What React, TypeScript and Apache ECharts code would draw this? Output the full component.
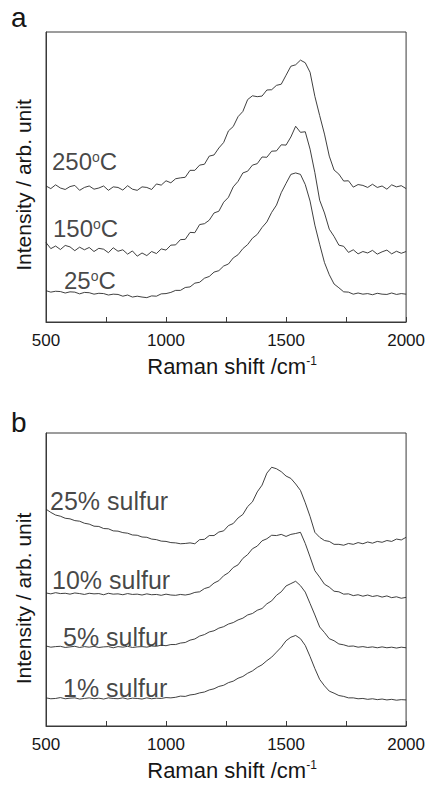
import React, { useEffect, useRef } from "react";
import * as echarts from "echarts";

// Raman shift (cm^-1), shared x values for every spectrum
const ramanShift = [
  500, 520, 540, 560, 580, 600, 620, 640, 660, 680,
  700, 720, 740, 760, 780, 800, 820, 840, 860, 880,
  900, 920, 940, 960, 980, 1000, 1020, 1040, 1060, 1080,
  1100, 1120, 1140, 1160, 1180, 1200, 1220, 1240, 1260, 1280,
  1300, 1320, 1340, 1360, 1380, 1400, 1420, 1440, 1460, 1480,
  1500, 1520, 1540, 1560, 1580, 1600, 1620, 1640, 1660, 1680,
  1700, 1720, 1740, 1760, 1780, 1800, 1820, 1840, 1860, 1880,
  1900, 1920, 1940, 1960, 1980, 2000,
];

// Panel a: intensity (arb. unit, offset stacked)
const temp25C = [
  10.8, 10.3, 10.6, 10.5, 10.0, 10.4, 10.3, 9.7, 10.2, 10.1,
  9.6, 9.9, 9.8, 9.3, 9.6, 9.5, 8.9, 9.3, 8.6, 8.9,
  8.6, 8.4, 9.0, 8.9, 9.7, 9.8, 10.2, 10.9, 10.9, 11.9,
  12.1, 13.4, 13.7, 15.1, 15.7, 17.2, 17.7, 19.3, 20.0, 22.1,
  23.2, 25.3, 26.7, 28.9, 30.2, 32.6, 34.5, 37.8, 40.3, 44.6,
  47.8, 50.9, 51.4, 50.9, 47.4, 41.7, 33.4, 26.8, 20.5, 16.3,
  13.1, 11.8, 10.4, 10.3, 9.6, 10.0, 9.6, 9.8, 9.4, 9.9,
  9.6, 9.5, 10.0, 9.5, 9.8, 9.6,
];
const temp150C = [
  27.4, 25.3, 26.2, 25.0, 26.4, 25.9, 24.6, 25.8, 24.9, 25.7,
  24.3, 25.4, 25.1, 23.9, 25.6, 24.4, 24.9, 23.4, 24.5, 22.7,
  23.8, 22.9, 24.3, 23.6, 25.2, 24.8, 26.5, 26.6, 28.4, 28.5,
  30.9, 30.8, 33.6, 33.9, 35.1, 37.6, 38.2, 41.3, 43.0, 46.6,
  48.5, 51.4, 52.0, 54.1, 54.6, 56.9, 56.8, 58.9, 59.0, 61.1,
  61.0, 63.8, 67.5, 65.4, 65.6, 59.6, 51.5, 42.0, 37.6, 32.0,
  29.5, 26.5, 26.1, 24.0, 24.9, 23.5, 24.3, 23.8, 24.7, 23.4,
  24.2, 24.8, 23.5, 24.4, 23.7, 24.3,
];
const temp250C = [
  46.9, 46.0, 47.3, 46.2, 45.7, 46.7, 47.1, 45.4, 46.4, 46.9,
  45.8, 46.2, 46.9, 45.4, 46.6, 46.4, 45.5, 47.0, 45.8, 45.4,
  46.6, 46.4, 45.7, 47.6, 47.2, 48.7, 48.0, 49.4, 49.7, 49.9,
  52.3, 52.3, 54.1, 54.4, 57.2, 57.6, 60.0, 61.9, 65.9, 67.4,
  70.8, 72.6, 76.7, 78.0, 77.7, 77.9, 80.0, 80.1, 81.6, 82.0,
  85.1, 88.2, 88.7, 90.3, 89.4, 86.1, 77.8, 71.2, 64.8, 57.2,
  52.4, 51.0, 48.6, 48.7, 46.5, 47.4, 47.1, 46.4, 47.5, 46.4,
  46.9, 45.8, 47.3, 46.6, 47.0, 46.0,
];

// Panel b: intensity (arb. unit, offset stacked)
const sulfur1 = [
  9.6, 9.3, 9.4, 9.7, 9.3, 9.5, 9.6, 9.2, 9.4, 9.6,
  9.3, 9.5, 9.2, 9.6, 9.4, 9.3, 9.6, 9.2, 9.5, 9.4,
  9.2, 9.6, 9.3, 9.5, 9.4, 9.7, 9.6, 9.8, 10.2, 10.1,
  10.6, 10.8, 11.3, 11.6, 12.3, 12.7, 13.5, 13.9, 14.8, 15.3,
  16.3, 16.9, 18.0, 18.8, 20.0, 20.9, 22.3, 23.5, 25.2, 26.9,
  29.1, 30.3, 30.9, 29.8, 27.5, 23.7, 19.6, 15.9, 13.7, 11.9,
  11.2, 10.4, 10.1, 9.6, 9.6, 9.3, 9.4, 9.1, 9.3, 9.0,
  9.2, 8.9, 9.1, 8.8, 9.0, 8.9,
];
const sulfur5 = [
  27.3, 26.9, 27.1, 27.2, 26.8, 27.0, 27.2, 26.8, 27.1, 26.9,
  27.2, 26.8, 27.0, 27.1, 26.7, 27.1, 26.9, 27.2, 26.8, 27.0,
  27.1, 26.9, 27.3, 27.2, 27.6, 27.4, 27.8, 27.8, 28.3, 28.5,
  29.3, 29.7, 30.7, 31.2, 32.1, 32.5, 33.4, 33.9, 34.8, 35.3,
  36.2, 36.8, 37.9, 38.4, 39.5, 40.1, 41.7, 42.7, 44.6, 45.8,
  47.8, 48.6, 49.4, 47.9, 45.7, 41.8, 37.9, 33.8, 31.9, 29.8,
  29.1, 28.0, 27.7, 27.2, 27.3, 26.9, 27.1, 26.8, 27.0, 26.7,
  27.0, 26.7, 26.9, 26.6, 26.9, 26.7,
];
const sulfur10 = [
  45.4, 45.1, 45.5, 45.2, 45.3, 45.0, 45.4, 45.2, 44.9, 45.3,
  45.1, 45.2, 44.8, 45.3, 45.0, 45.1, 44.8, 45.2, 44.9, 45.0,
  44.7, 45.1, 44.8, 44.9, 44.6, 45.0, 44.7, 44.6, 44.9, 44.7,
  45.0, 45.6, 45.8, 46.9, 47.4, 48.8, 49.6, 51.3, 52.3, 54.1,
  55.0, 57.2, 58.5, 60.5, 61.4, 63.2, 63.9, 65.1, 65.0, 65.4,
  64.7, 65.4, 65.7, 66.1, 62.3, 57.7, 53.0, 50.8, 48.4, 47.4,
  46.0, 45.8, 45.0, 45.1, 44.5, 44.8, 44.3, 44.7, 44.2, 44.5,
  44.0, 44.4, 43.8, 44.1, 43.6, 43.9,
];
const sulfur25 = [
  74.0, 72.9, 72.0, 71.6, 70.9, 70.7, 70.1, 69.9, 69.2, 68.9,
  68.2, 68.1, 67.4, 67.3, 66.6, 66.5, 66.0, 65.8, 65.2, 65.1,
  64.5, 64.4, 63.8, 63.6, 63.1, 63.0, 62.6, 62.5, 62.2, 62.3,
  62.5, 62.2, 63.6, 63.7, 65.0, 65.0, 66.2, 66.6, 68.4, 69.1,
  71.0, 72.2, 74.9, 76.5, 79.9, 82.2, 86.3, 88.3, 87.8, 86.8,
  85.3, 84.5, 82.6, 80.4, 76.2, 71.5, 66.1, 64.4, 63.3, 63.0,
  62.0, 62.0, 61.7, 62.3, 62.0, 62.6, 62.2, 62.8, 62.4, 63.0,
  62.7, 63.3, 63.0, 63.8, 63.5, 64.4,
];

const temperatures = ["250", "150", "25"];
const sulfurContents = ["25%", "10%", "5%", "1%"];
const xTickValues = [500, 1000, 1500, 2000];
const panelLetters = ["a", "b"];

const FONT = '"Liberation Sans", Arial, Helvetica, sans-serif';
const INK = "#161616";
const LINE = "#2a2a2a";
const FRAME = "#3a3a3a";

const toPairs = (ys: number[]) => ramanShift.map((x, i) => [x, ys[i]]);

export default function App() {
  const ref = useRef<HTMLDivElement>(null);

  useEffect(() => {
    if (!ref.current) return;
    const chart = echarts.init(ref.current, undefined, { renderer: "svg" });

    const panels = [
      {
        top: 32,
        height: 290,
        curves: [temp250C, temp150C, temp25C],
        labels: temperatures.map((t) => `{n|${t}}{o|o}{n|C}`),
        offsets: [[6, -24], [7, -14], [18, -10]],
        letterTop: 3,
        yNameShift: 16,
      },
      {
        top: 433,
        height: 293,
        curves: [sulfur25, sulfur10, sulfur5, sulfur1],
        labels: sulfurContents.map((s) => `${s} sulfur`),
        offsets: [[4, -8], [6, -13], [17, -9], [17, -10]],
        letterTop: 408,
        yNameShift: 38,
      },
    ];

    const grids = panels.map((p) => ({
      left: 46,
      width: 363,
      top: p.top,
      height: p.height,
      show: true,
      borderColor: FRAME,
      borderWidth: 1,
      backgroundColor: "transparent",
    }));

    const xAxes = panels.map((_, gi) => ({
      type: "value",
      gridIndex: gi,
      min: xTickValues[0],
      max: xTickValues[xTickValues.length - 1],
      interval: xTickValues[1] - xTickValues[0],
      axisLine: { show: true, lineStyle: { color: FRAME, width: 1 } },
      axisTick: { show: true, inside: true, length: 5, lineStyle: { color: FRAME, width: 1 } },
      minorTick: { show: true, splitNumber: 2, length: 5, lineStyle: { color: FRAME, width: 1 } },
      splitLine: { show: false },
      axisLabel: {
        fontSize: 17,
        color: INK,
        margin: 10,
        fontFamily: FONT,
        formatter: (v: number) => String(v),
      },
      name: "{t|Raman shift /cm}{s|-1}",
      nameLocation: "middle",
      nameGap: 33,
      nameTextStyle: {
        fontFamily: FONT,
        color: INK,
        padding: [0, 0, 0, 12],
        rich: {
          t: { fontSize: 22, fontFamily: FONT, color: INK, verticalAlign: "bottom" },
          s: { fontSize: 12, fontFamily: FONT, color: INK, verticalAlign: "top" },
        },
      },
    }));

    const yAxes = panels.map((p, gi) => ({
      type: "value",
      gridIndex: gi,
      min: 0,
      max: 100,
      axisLine: { show: true, lineStyle: { color: FRAME, width: 1 } },
      axisTick: { show: false },
      axisLabel: { show: false },
      splitLine: { show: false },
      name: "Intensity / arb. unit",
      nameLocation: "middle",
      nameGap: 12,
      nameTextStyle: {
        fontSize: 21,
        fontFamily: FONT,
        color: INK,
        padding: [0, p.yNameShift, 0, 0],
      },
    }));

    const series: any[] = [];
    panels.forEach((p, gi) => {
      p.curves.forEach((ys) => {
        series.push({
          type: "line",
          xAxisIndex: gi,
          yAxisIndex: gi,
          data: toPairs(ys),
          showSymbol: false,
          symbol: "none",
          lineStyle: { color: LINE, width: 0.9 },
          silent: true,
        });
      });
      series.push({
        type: "scatter",
        xAxisIndex: gi,
        yAxisIndex: gi,
        symbolSize: 0,
        silent: true,
        data: p.curves.map((ys, k) => ({
          value: [ramanShift[0], ys[0]],
          label: {
            show: true,
            position: p.offsets[k],
            align: "left",
            verticalAlign: "middle",
            formatter: p.labels[k],
            fontSize: 25,
            fontFamily: FONT,
            color: INK,
            rich: {
              n: { fontSize: 24, fontFamily: FONT, color: INK, verticalAlign: "bottom" },
              o: { fontSize: 14, fontFamily: FONT, color: INK, verticalAlign: "top" },
            },
          },
        })),
      });
    });

    const graphic = panels.map((p, gi) => ({
      type: "text",
      left: 11,
      top: p.letterTop,
      style: { text: panelLetters[gi], fontSize: 28, fontFamily: FONT, fill: INK },
    }));

    chart.setOption({
      animation: false,
      backgroundColor: "#ffffff",
      textStyle: { fontFamily: FONT },
      grid: grids,
      xAxis: xAxes,
      yAxis: yAxes,
      series,
      graphic,
    });

    return () => chart.dispose();
  }, []);

  return (
    <div
      ref={ref}
      style={{ position: "absolute", left: 0, top: 0, width: 428, height: 786 }}
    />
  );
}
